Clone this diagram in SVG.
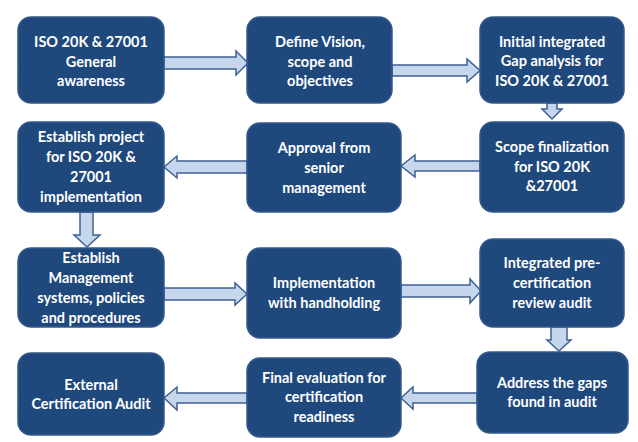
<svg xmlns="http://www.w3.org/2000/svg" width="638" height="442" viewBox="0 0 638 442">
<style>
.box{fill:#1f497d;stroke:#34598a;stroke-width:1.5}
.arr{fill:#c6d6ec;stroke:#3f6293;stroke-width:1.5;stroke-linejoin:miter}
text{font-family:Lato,"Liberation Sans",sans-serif;font-weight:bold;font-size:14.5px;fill:#ffffff;text-anchor:middle}
</style>
<rect width="638" height="442" fill="#ffffff"/>
<g id="connectors">
<polygon class="arr" points="164,57 236,57 236,51 248,63 236,75 236,69 164,69"/>
<polygon class="arr" points="392,65 467,65 467,59 480,70.5 467,82 467,76 392,76"/>
<polygon class="arr" points="547,103 557,103 557,109 562,109 552,119 542,109 547,109"/>
<polygon class="arr" points="480,161 415,161 415,155 401,166 415,177 415,171 480,171"/>
<polygon class="arr" points="247,161 177,161 177,156 164,167 177,178 177,173 247,173"/>
<polygon class="arr" points="80,212 93,212 93,235 100,235 87,247 74,235 80,235"/>
<polygon class="arr" points="164,288 235,288 235,283 247,294 235,305 235,300 164,300"/>
<polygon class="arr" points="401,285 470,285 470,279 481,291 470,303 470,297 401,297"/>
<polygon class="arr" points="551,327 567,327 567,340 571,340 559,351 547,340 551,340"/>
<polygon class="arr" points="477,393 413,393 413,387 401,398 413,409 413,403 477,403"/>
<polygon class="arr" points="247,393 177,393 177,387 164,398 177,410 177,403 247,403"/>
</g>
<g id="n1"><rect class="box" x="18" y="17" width="146" height="86" rx="13"/>
<text x="91" y="47">ISO 20K &amp; 27001</text><text x="91" y="67">General</text><text x="91" y="86">awareness</text></g>
<g id="n2"><rect class="box" x="247" y="17" width="145" height="86" rx="13"/>
<text x="320" y="47">Define Vision,</text><text x="320" y="67">scope and</text><text x="320" y="86">objectives</text></g>
<g id="n3"><rect class="box" x="480" y="17" width="144" height="86" rx="13"/>
<text x="552" y="47">Initial integrated</text><text x="552" y="66">Gap analysis for</text><text x="552" y="86">ISO 20K &amp; 27001</text></g>
<g id="n4"><rect class="box" x="480" y="122" width="144" height="90" rx="13"/>
<text x="552" y="152">Scope finalization</text><text x="552" y="172">for ISO 20K</text><text x="552" y="191">&amp;27001</text></g>
<g id="n5"><rect class="box" x="247" y="123" width="154" height="89" rx="13"/>
<text x="324" y="153">Approval from</text><text x="324" y="173">senior</text><text x="324" y="193">management</text></g>
<g id="n6"><rect class="box" x="18" y="122" width="146" height="90" rx="13"/>
<text x="91" y="142">Establish project</text><text x="91" y="162">for ISO 20K &amp;</text><text x="91" y="182">27001</text><text x="91" y="202">implementation</text></g>
<g id="n7"><rect class="box" x="18" y="248" width="146" height="79" rx="13"/>
<text x="91" y="263">Establish</text><text x="91" y="283">Management</text><text x="91" y="303">systems, policies</text><text x="91" y="323">and procedures</text></g>
<g id="n8"><rect class="box" x="247" y="248" width="154" height="90" rx="13"/>
<text x="324" y="288">Implementation</text><text x="324" y="308">with handholding</text></g>
<g id="n9"><rect class="box" x="480" y="239" width="144" height="88" rx="13"/>
<text x="552" y="268">Integrated pre-</text><text x="552" y="288">certification</text><text x="552" y="308">review audit</text></g>
<g id="n10"><rect class="box" x="477" y="352" width="151" height="81" rx="13"/>
<text x="552" y="388">Address the gaps</text><text x="552" y="407">found in audit</text></g>
<g id="n11"><rect class="box" x="247" y="358" width="154" height="79" rx="13"/>
<text x="324" y="383">Final evaluation for</text><text x="324" y="402">certification</text><text x="324" y="422">readiness</text></g>
<g id="n12"><rect class="box" x="18" y="353" width="146" height="82" rx="13"/>
<text x="91" y="390">External</text><text x="91" y="409">Certification Audit</text></g>
</svg>
